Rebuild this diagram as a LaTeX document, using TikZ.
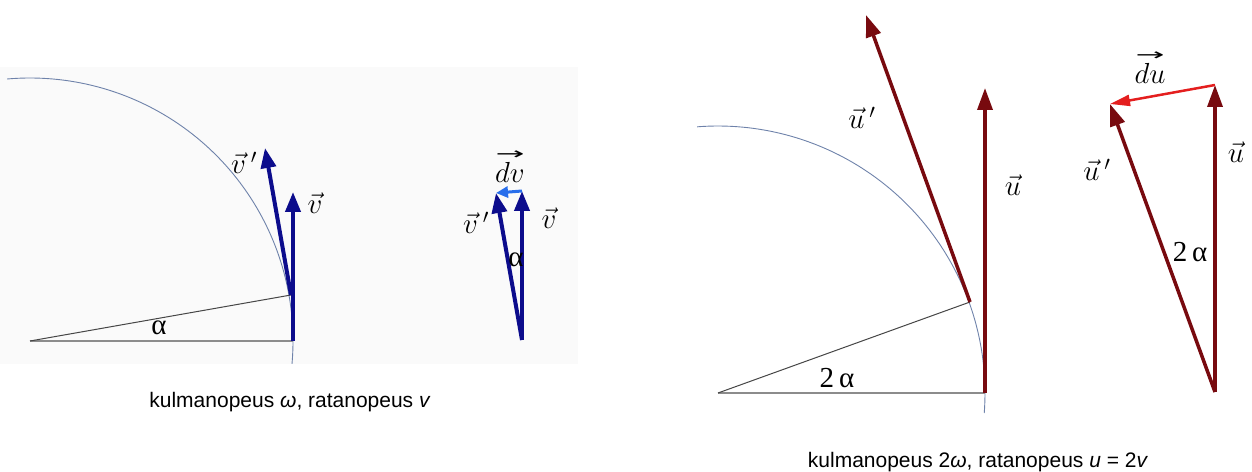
\RequirePackage{fix-cm}
\documentclass[tikz,border=0pt]{standalone}
\usepackage{fontspec}
\usepackage{graphicx}
\setmainfont{Liberation Sans}
\newfontfamily\lserif{Liberation Serif}
\newfontfamily\dejavu{DejaVu Sans}
\usetikzlibrary{arrows.meta}
\newcommand{\ovarr}[1]{\stackrel{\raisebox{0.02em}{\resizebox{1.0em}{0.3em}{\dejavu →}}}{#1}}
\definecolor{navy}{RGB}{12,12,140}
\definecolor{dvblue}{RGB}{40,110,235}
\definecolor{maroon}{RGB}{120,10,15}
\definecolor{dured}{RGB}{228,30,30}
\definecolor{arccol}{RGB}{110,130,170}
\definecolor{basegray}{RGB}{140,140,140}
\definecolor{radgray}{RGB}{70,70,70}
\definecolor{panelbg}{RGB}{250,250,250}
\begin{document}
\begin{tikzpicture}[x=1pt,y=1pt,
  vecb/.style={line width=4pt, draw=navy, -{Triangle[length=20pt,width=15pt]}},
  vecdb/.style={line width=3pt, draw=dvblue, -{Triangle[length=12pt,width=11pt]}},
  vecr/.style={line width=3.5pt, draw=maroon, -{Triangle[length=22pt,width=15pt]}},
  vecdr/.style={line width=2.5pt, draw=dured, -{Triangle[length=20pt,width=11pt]}},
  circarc/.style={draw=arccol, line width=0.9pt},
  baseln/.style={draw=basegray, line width=2pt},
  radline/.style={draw=radgray, line width=1pt},
  lbl/.style={inner sep=0pt, font=\fontsize{29}{31}\selectfont},
  captext/.style={inner sep=0pt, font=\fontsize{21}{24}\selectfont}]
\useasboundingbox (0,0) rectangle (1252,471);
\fill[panelbg] (0,107) rectangle (578,404);
% ---------- left panel ----------
\coordinate (O1) at (30,130);
\coordinate (P1) at (293,130);
\coordinate (Q1) at (291,176);
\coordinate (V1) at (293,279);
\coordinate (V1p) at (265,323);
\draw[circarc] (O1) ++(-5:263) arc[start angle=-5,end angle=95,radius=263];
\draw[baseln] (O1) -- (P1);
\draw[radline] (O1) -- (Q1);
\draw[vecb] (P1) -- (V1);
\draw[vecb] (Q1) -- (V1p);
\node[lbl] (lv1p) at (244,308) {$\vec{v}\,'$};
\node[lbl] (lv1) at (315,268) {$\vec{v}$};
\node[lbl] (la1) at (159,143) {\lserif α};
% ---------- small triangle ----------
\coordinate (B2) at (522,131);
\coordinate (V2) at (522,280);
\coordinate (V2p) at (496,278);
\draw[vecb] (B2) -- (V2);
\draw[vecb] (B2) -- (V2p);
\draw[vecdb] (V2) -- (V2p);
\node[lbl] (ldv) at (510,305) {$\ovarr{dv}$};
\node[lbl] (lv2p) at (476,248) {$\vec{v}\,'$};
\node[lbl] (lv2) at (549,253) {$\vec{v}$};
\node[lbl] (la2) at (516,211) {\lserif α};
\node[captext] (cap1) at (290,69) {kulmanopeus \textit{ω}, ratanopeus \textit{v}};
% ---------- right panel ----------
\coordinate (O3) at (718,78);
\coordinate (P3) at (985,78);
\coordinate (Q3) at (970,169);
\coordinate (U3) at (985,383);
\coordinate (U3p) at (866,456);
\draw[circarc] (O3) ++(-4.3:267) arc[start angle=-4.3,end angle=94.5,radius=267];
\draw[baseln] (O3) -- (P3);
\draw[radline] (O3) -- (Q3);
\draw[vecr] (P3) -- (U3);
\draw[vecr] (Q3) -- (U3p);
\node[lbl] (lu3p) at (862,353) {$\vec{u}\,'$};
\node[lbl] (lu3) at (1013,286) {$\vec{u}$};
\node[lbl] (la3) at (837,93) {\lserif 2\,α};
% ---------- big triangle ----------
\coordinate (B4) at (1215,79);
\coordinate (U4) at (1215,386);
\coordinate (U4p) at (1110,367);
\draw[vecr] (B4) -- (U4);
\draw[vecr] (B4) -- (U4p);
\draw[vecdr] (U4) -- (U4p);
\node[lbl] (ldu) at (1150,404) {$\ovarr{du}$};
\node[lbl] (lu4p) at (1097,301) {$\vec{u}\,'$};
\node[lbl] (lu4) at (1236,319) {$\vec{u}$};
\node[lbl] (la4) at (1190,219) {\lserif 2\,α};
\node[captext] (cap2) at (978,9) {kulmanopeus 2\textit{ω}, ratanopeus \textit{u} = 2\textit{v}};
\end{tikzpicture}
\end{document}
